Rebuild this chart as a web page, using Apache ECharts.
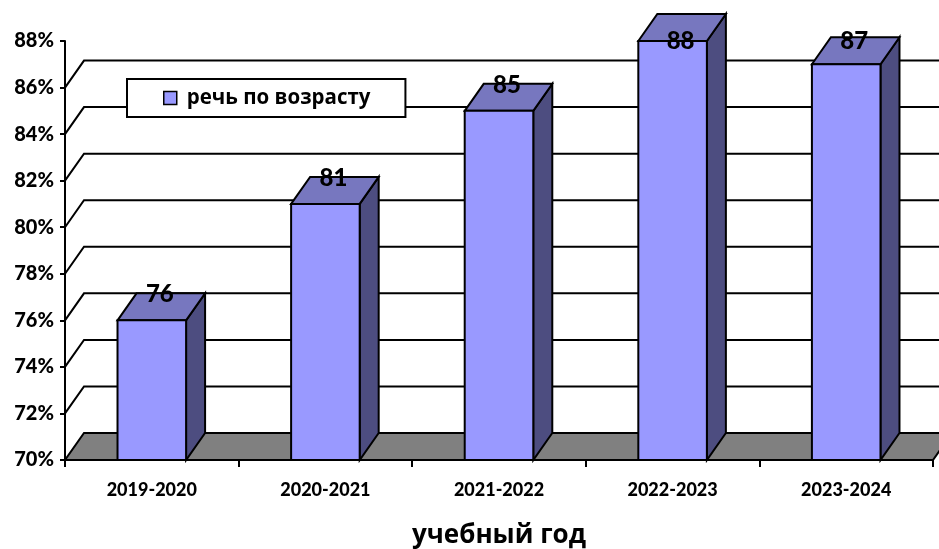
<!DOCTYPE html>
<html>
<head>
<meta charset="utf-8">
<script src="https://cdn.jsdelivr.net/npm/echarts@6/dist/echarts.min.js"></script>
<style>
html,body{margin:0;padding:0;background:#fff;}
#chart{width:939px;height:549px;}
</style>
</head>
<body>
<div id="chart"></div>
<script>
const categories = ['2019-2020', '2020-2021', '2021-2022', '2022-2023', '2023-2024'];
const values = [76, 81, 85, 88, 87];
const seriesName = 'речь по возрасту';
const gridValues = [72, 74, 76, 78, 80, 82, 84, 86];
const floorValue = [70];
const axisName = 'учебный год';

const DX = 19, DY = -27;
const FONT = 'Lato, "Open Sans", sans-serif';
const CYR = '"Open Sans", sans-serif';

const chart = echarts.init(document.getElementById('chart'));

function wallItem(params, api) {
  const cs = params.coordSys;
  const y = api.coord([0, api.value(1)])[1];
  return {
    type: 'polyline',
    shape: { points: [[cs.x, y], [cs.x + DX, y + DY], [cs.x + cs.width + DX + 40, y + DY]] },
    style: { stroke: '#000', lineWidth: 2, fill: null }
  };
}

function floorItem(params, api) {
  const cs = params.coordSys;
  const y = api.coord([0, api.value(1)])[1];
  return {
    type: 'polygon',
    shape: { points: [[cs.x, y], [cs.x + cs.width, y], [cs.x + cs.width + DX, y + DY], [cs.x + DX, y + DY]] },
    style: { fill: '#808080', stroke: '#000', lineWidth: 2 }
  };
}

function barItem(params, api) {
  const cs = params.coordSys;
  const idx = api.value(0);
  const v = api.value(1);
  const top = api.coord([idx, v]);
  const base = api.coord([idx, 70]);
  const bw = api.size([1, 0])[0] * 0.395;
  const x0 = top[0] - bw / 2, x1 = top[0] + bw / 2;
  const ty = top[1], by = base[1];
  const ly = Math.max(ty + DY + 1, cs.y);
  return {
    type: 'group',
    children: [
      { type: 'polygon', shape: { points: [[x1, ty], [x1 + DX, ty + DY], [x1 + DX, by + DY], [x1, by]] },
        style: { fill: '#4D4D80', stroke: '#000', lineWidth: 2 } },
      { type: 'polygon', shape: { points: [[x0, ty], [x0 + DX, ty + DY], [x1 + DX, ty + DY], [x1, ty]] },
        style: { fill: '#7777BF', stroke: '#000', lineWidth: 2 } },
      { type: 'rect', shape: { x: x0, y: ty, width: bw, height: by - ty },
        style: { fill: '#9999FF', stroke: '#000', lineWidth: 2 } },
      { type: 'text', style: { text: String(v), x: top[0] + 8, y: ly, align: 'center', verticalAlign: 'middle',
        font: '900 24px ' + FONT, fill: '#000' } }
    ]
  };
}

chart.setOption({
  animation: false,
  backgroundColor: '#fff',
  grid: { left: 65, right: 6, top: 41, bottom: 89, containLabel: false, outerBoundsMode: 'none' },
  legend: {
    data: [seriesName],
    left: 127, top: 79,
    orient: 'horizontal',
    backgroundColor: '#fff',
    borderColor: '#000',
    borderWidth: 2,
    borderRadius: 0,
    padding: [8, 35, 8, 36],
    icon: 'rect',
    itemWidth: 13, itemHeight: 13,
    itemGap: 0,
    itemStyle: { borderColor: '#000', borderWidth: 1.5 },
    textStyle: { fontFamily: CYR, fontWeight: 'bold', fontSize: 20.5, lineHeight: 22, color: '#000', padding: [0, 0, 0, 5] }
  },
  xAxis: {
    type: 'category',
    data: categories,
    boundaryGap: true,
    name: axisName,
    nameLocation: 'middle',
    nameGap: 63,
    nameTextStyle: { fontFamily: CYR, fontWeight: 'bold', fontSize: 26, color: '#000' },
    axisLine: { lineStyle: { color: '#000', width: 2 } },
    axisTick: { show: true, length: 7, lineStyle: { color: '#000', width: 2 } },
    axisLabel: { margin: 21, fontFamily: FONT, fontWeight: 900, fontSize: 18, color: '#000' },
    splitLine: { show: false }
  },
  yAxis: {
    type: 'value',
    min: 70, max: 88, interval: 2,
    axisLine: { show: true, lineStyle: { color: '#000', width: 2 } },
    axisTick: { show: true, length: 5, lineStyle: { color: '#000', width: 2 } },
    axisLabel: { margin: 11, formatter: '{value}%', fontFamily: FONT, fontWeight: 900, fontSize: 20, color: '#000' },
    splitLine: { show: false }
  },
  series: [
    { type: 'custom', name: 'floor', renderItem: floorItem, data: floorValue.map(v => [0, v]), z: 1, silent: true, clip: false },
    { type: 'custom', name: 'walls', renderItem: wallItem, data: gridValues.map(v => [0, v]), z: 1, silent: true, clip: false },
    { type: 'custom', name: seriesName, renderItem: barItem, itemStyle: { color: '#9999FF' },
      data: values.map((v, i) => [i, v]), z: 3, clip: false, encode: { x: 0, y: 1 } }
  ]
});
</script>
</body>
</html>
